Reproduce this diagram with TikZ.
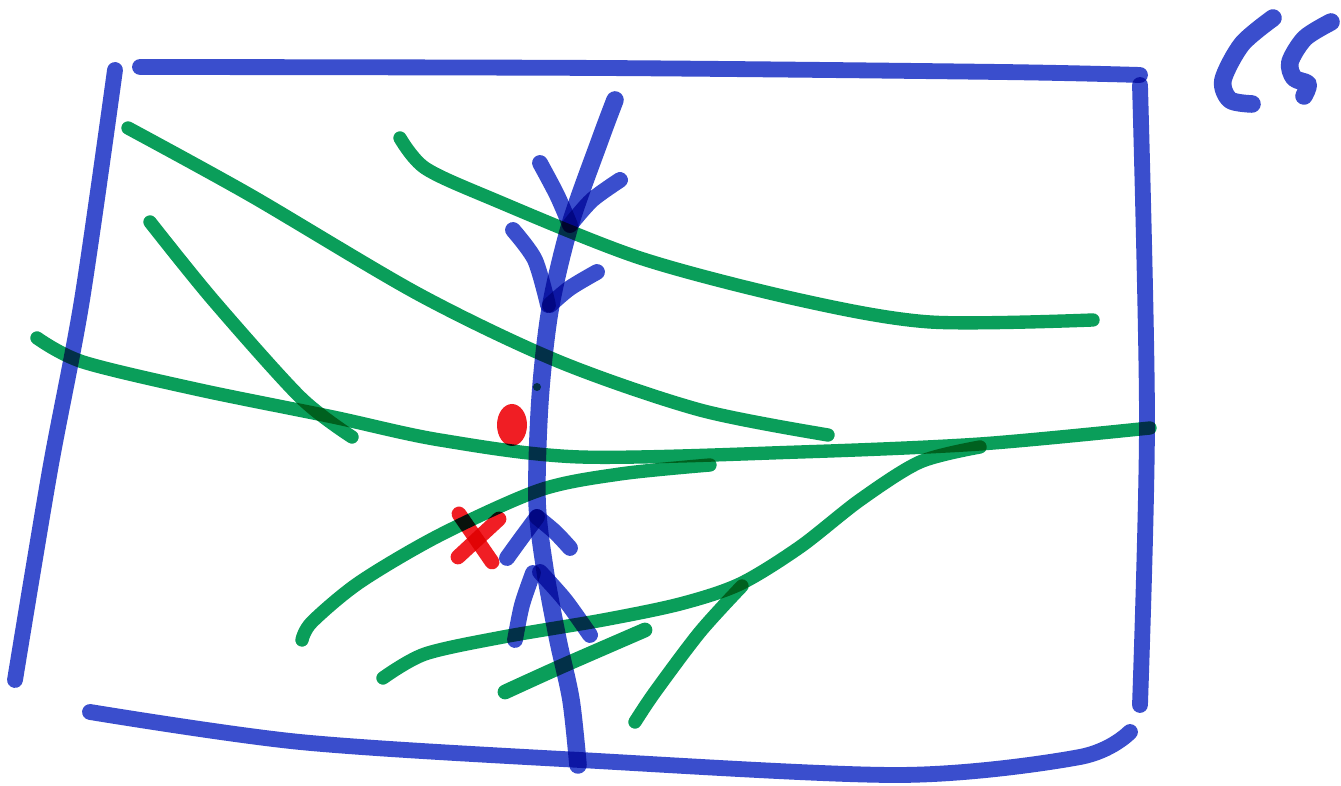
\documentclass[tikz,border=0pt]{standalone}
\begin{document}
\begin{tikzpicture}[x=0.01cm,y=-0.01cm,
  bluepen/.style={draw=penblue,line width=4.5pt,line cap=round,line join=round},
  greenpen/.style={draw=pengreen,line width=3.8pt,line cap=round,line join=round},
  redpen/.style={draw=penred,line width=4.2pt,line cap=round,line join=round}]
\definecolor{penblue}{RGB}{58,78,205}
\definecolor{pengreen}{RGB}{10,158,90}
\definecolor{penred}{RGB}{240,30,36}
\useasboundingbox (0,0) rectangle (1341,786);
\fill[white] (0,0) rectangle (1341,786);
\begin{scope}[blend group=multiply]
% frame
\draw[bluepen] plot[smooth] coordinates {(140,67) (600,68) (1000,72) (1140,75)};
\draw[bluepen] plot[smooth] coordinates {(1140,85) (1147,420) (1140,705)};
\draw[bluepen] plot[smooth] coordinates {(115,70) (82,300) (50,470) (15,680)};
\draw[bluepen] plot[smooth] coordinates {(90,712) (300,742) (580,760) (900,775) (1080,757) (1130,732)};
% CS marks
\draw[bluepen,line width=5pt] plot[smooth] coordinates {(1273,18) (1242,44) (1223,80) (1230,100) (1252,104)};
\draw[bluepen,line width=5pt] plot[smooth] coordinates {(1331,22) (1305,38) (1290,62) (1294,78) (1308,84) (1304,96)};
% green lines
\draw[greenpen] plot[smooth] coordinates {(128,128) (250,195) (420,295) (560,362) (700,410) (828,435)};
\draw[greenpen] plot[smooth] coordinates {(150,222) (213,300) (300,397) (352,437)};
\draw[greenpen] plot[smooth] coordinates {(400,138) (425,168) (490,198) (640,258) (800,300) (930,322) (1093,320)};
\draw[greenpen] plot[smooth] coordinates {(37,338) (83,362) (200,390) (333,417) (440,440) (580,457) (800,452) (980,444) (1150,428)};
\draw[greenpen] plot[smooth] coordinates {(710,465) (620,474) (540,490) (440,535) (360,582) (312,622) (302,640)};
\draw[greenpen] plot[smooth] coordinates {(383,678) (425,654) (503,637) (603,620) (680,604) (740,584) (800,547) (860,500) (920,462) (980,447)};
\draw[greenpen] plot[smooth] coordinates {(742,586) (700,632) (655,692) (635,722)};
\draw[greenpen,line width=4.2pt] plot[smooth] coordinates {(505,692) (560,667) (645,630)};
\fill[pengreen] (537,387) circle (4);
% red marks
\fill[penred] (512,425) ellipse (15 and 21);
\draw[redpen] (459,514) -- (492,562);
\draw[redpen] (499,519) -- (458,557);
% central blue line with arrow marks
\draw[bluepen,line width=5pt] plot[smooth] coordinates {(615,100) (600,140) (570,225) (550,310) (540,400) (537,500) (545,570) (558,640) (571,700) (578,765)};
\draw[bluepen] plot[smooth] coordinates {(540,163) (557,195) (570,225)};
\draw[bluepen] plot[smooth] coordinates {(620,180) (592,200) (570,225)};
\draw[bluepen] plot[smooth] coordinates {(513,230) (535,260) (548,305)};
\draw[bluepen] plot[smooth] coordinates {(597,272) (570,288) (550,305)};
\draw[bluepen] plot[smooth] coordinates {(537,517) (520,540) (507,558)};
\draw[bluepen] plot[smooth] coordinates {(537,517) (555,532) (570,548)};
\draw[bluepen] plot[smooth] coordinates {(533,573) (522,605) (515,640)};
\draw[bluepen] plot[smooth] coordinates {(540,572) (565,600) (590,635)};
\end{scope}
\end{tikzpicture}
\end{document}
